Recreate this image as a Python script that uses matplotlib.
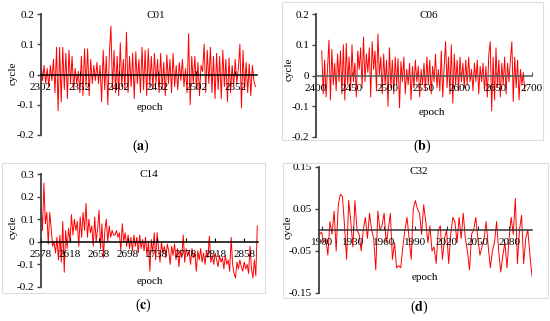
import numpy as np
import matplotlib
matplotlib.use('Agg')
import matplotlib.pyplot as plt
from matplotlib.patches import Rectangle

# Fonts: Times-like serif, plain hyphen for negative numbers
plt.rcParams['font.family'] = ['Liberation Serif', 'DejaVu Serif']
plt.rcParams['axes.unicode_minus'] = False
plt.rcParams['mathtext.fontset'] = 'stix'

# Data (residuals in cycles, one value every 2 epochs)
epochs_c01 = np.arange(2302, 2580, 2)
c01 = [0.04, -0.02, 0.03, -0.03, 0.02, -0.04, 0.03, -0.02, 0.05, -0.06,
       0.09, -0.12, 0.09, -0.09, 0.09, -0.05, 0.07, -0.08, 0.08, -0.03,
       0.06, -0.05, 0.02, -0.03, 0.01, -0.06, 0.06, -0.07, 0.085, -0.04,
       0.085, -0.07, 0.05, -0.03, 0.03, -0.02, 0.04, -0.03, 0.03, -0.09,
       0.08, -0.05, 0.06, -0.1, 0.07, 0.16, -0.05, 0.08, -0.06, 0.06,
       -0.07, 0.105, -0.04, 0.05, -0.05, 0.14, -0.06, 0.06, -0.04, 0.07,
       -0.08, 0.075, -0.03, 0.05, -0.06, 0.09, -0.05, 0.08, -0.07, 0.085,
       -0.04, 0.06, -0.05, 0.07, -0.03, 0.05, -0.06, 0.07, -0.05, 0.04,
       -0.07, 0.065, -0.03, 0.05, -0.06, 0.07, -0.04, 0.03, -0.05, 0.04,
       -0.02, 0.05, -0.04, 0.02, -0.06, 0.135, -0.1, 0.06, -0.03, 0.06,
       -0.05, 0.04, -0.07, 0.03, 0.01, 0.1, -0.06, 0.08, -0.03, 0.09,
       -0.06, 0.06, -0.08, 0.07, -0.05, 0.06, -0.08, 0.08, -0.04, 0.05,
       -0.09, 0.055, -0.06, 0.03, -0.04, 0.05, -0.03, 0.02, 0.1, -0.11,
       0.08, -0.05, 0.04, -0.06, 0.035, -0.07, 0.03, -0.02, -0.04]

epochs_c06 = np.arange(2408, 2692, 2)
c06 = [0.08, -0.06, 0.05, -0.07, 0.02, 0.115, -0.08, 0.085, -0.03, 0.04,
       -0.05, 0.07, -0.02, 0.08, -0.06, 0.1, -0.08, 0.105, -0.03, 0.06,
       -0.05, 0.1, -0.02, 0.04, -0.07, 0.08, 0.02, 0.09, -0.04, 0.125,
       -0.02, 0.07, 0.01, 0.09, -0.07, 0.11, 0.02, 0.08, -0.05, 0.135,
       0.0, 0.06, -0.06, 0.07, -0.03, 0.05, -0.1, 0.09, -0.04, 0.05,
       -0.06, 0.06, -0.03, 0.055, -0.105, 0.045, -0.02, 0.06, -0.06, 0.02,
       -0.03, 0.04, -0.08, 0.03, -0.04, 0.05, -0.02, 0.03, -0.07, 0.02,
       -0.03, 0.04, -0.05, 0.06, -0.03, 0.05, -0.06, 0.03, -0.02, 0.07,
       -0.04, 0.02, -0.05, 0.08, -0.07, 0.03, 0.11, -0.04, 0.06, -0.06,
       0.1, -0.09, 0.07, -0.03, 0.05, -0.05, 0.06, -0.02, 0.04, -0.04,
       0.05, -0.03, 0.06, -0.02, 0.02, -0.05, 0.04, -0.02, 0.05, -0.06,
       0.03, -0.02, 0.04, -0.05, 0.03, -0.07, 0.07, 0.11, -0.115, 0.06,
       -0.08, 0.09, -0.04, 0.05, -0.07, 0.04, -0.03, 0.06, -0.06, 0.04,
       -0.02, 0.05, 0.11, -0.085, 0.06, -0.04, 0.05, -0.08, 0.02, -0.03,
       0.01, -0.05]

epochs_c14 = np.arange(2578, 2878, 2)
c14 = [0.17, 0.05, 0.26, 0.08, 0.13, -0.01, 0.13, 0.06, -0.02, 0.0,
       -0.05, 0.02, -0.08, 0.03, -0.09, 0.09, -0.135, 0.05, -0.03, 0.06,
       0.0, 0.12, 0.03, 0.1, 0.05, 0.09, -0.02, 0.11, 0.02, 0.13,
       0.05, 0.17, 0.02, 0.1, 0.04, 0.07, -0.02, 0.11, 0.0, 0.06,
       0.14, -0.03, 0.08, -0.07, 0.05, 0.1, 0.0, 0.07, 0.02, 0.05,
       0.03, 0.03, 0.05, 0.02, 0.04, -0.04, 0.08, 0.0, 0.04, -0.02,
       0.03, -0.03, 0.02, -0.04, 0.03, -0.02, 0.02, -0.05, 0.03, -0.03,
       0.01, -0.04, 0.02, -0.06, 0.0, -0.13, 0.01, -0.05, 0.04, -0.08,
       0.04, -0.03, -0.09, 0.0, -0.05, -0.02, -0.07, -0.01, -0.04, -0.1,
       -0.02, -0.06, -0.01, -0.08, -0.03, -0.11, -0.04, -0.07, 0.03, -0.09,
       -0.03, -0.06, -0.04, -0.1, -0.03, -0.07, -0.05, -0.13, -0.04, -0.08,
       -0.03, -0.09, -0.05, -0.1, -0.04, -0.07, 0.025, -0.09, -0.06, -0.1,
       -0.05, -0.08, -0.11, -0.06, -0.09, -0.07, -0.12, -0.06, -0.1, -0.08,
       -0.13, 0.02, -0.1, -0.14, -0.16, -0.09, -0.12, -0.08, -0.11, -0.13,
       -0.09, -0.12, -0.1, -0.14, -0.02, -0.12, -0.16, -0.08, -0.15, 0.07]

epochs_c32 = np.arange(1898, 2104, 2)
c32 = [-0.01, -0.005, -0.03, -0.02, -0.06, 0.02, -0.01, 0.045, -0.05, 0.06,
       0.085, 0.08, 0.01, -0.07, 0.07, 0.02, -0.04, 0.07, 0.0, -0.01,
       -0.05, 0.0, 0.03, -0.02, 0.04, 0.0, -0.02, -0.095, 0.045, 0.0,
       0.01, 0.04, -0.03, 0.0, 0.04, -0.07, -0.03, -0.09, -0.085, -0.09,
       -0.04, 0.0, 0.03, -0.02, -0.07, 0.05, 0.07, 0.05, 0.04, -0.01,
       0.06, 0.02, -0.03, 0.01, -0.05, -0.04, -0.08, 0.0, 0.01, -0.07,
       -0.02, 0.0, -0.08, -0.01, 0.03, 0.02, -0.03, 0.03, -0.02, 0.04,
       -0.02, -0.05, -0.095, -0.01, 0.0, 0.03, -0.02, -0.06, -0.04, -0.02,
       0.02, -0.04, -0.09, -0.05, -0.03, 0.02, -0.05, -0.1, -0.06, -0.03,
       -0.09, -0.02, 0.03, -0.01, 0.075, -0.08, 0.0, 0.035, -0.08, -0.02,
       0.0, -0.06, -0.11]

# Tick values and labels
xticks_c01 = [2302, 2352, 2402, 2452, 2502, 2552]
xticks_c06 = [2400, 2450, 2500, 2550, 2600, 2650, 2700]
xticks_c14 = [2578, 2618, 2658, 2698, 2738, 2778, 2818, 2858]
xticks_c32 = [1900, 1930, 1960, 1990, 2020, 2050, 2080]
yticks_a = [0.2, 0.1, 0, -0.1, -0.2]
ylabels_a = ['0.2', '0.1', '0', '-0.1', '-0.2']
yticks_c = [0.3, 0.2, 0.1, 0, -0.1, -0.2]
ylabels_c = ['0.3', '0.2', '0.1', '0', '-0.1', '-0.2']
yticks_d = [0.15, 0.05, -0.05, -0.15]
ylabels_d = ['0.15', '0.05', '-0.05', '-0.15']

FS = 8
W, H = 550, 321
fig = plt.figure(figsize=(W / 100, H / 100), dpi=100)


def box(left, top, right, bottom):
    # pixel box (from top-left) -> figure fraction
    return [left / W, 1 - bottom / H, (right - left) / W, (bottom - top) / H]


def ftext(x, y, s, **kw):
    fig.text(x / W, 1 - y / H, s, ha='center', va='center', **kw)


def panel(rect, epochs, values, xlim, xticks, ylim, yticks, ylabels, zero_color):
    ax = fig.add_axes(box(*rect))
    ax.patch.set_alpha(0)
    # red series drawn under the axis lines and tick labels
    ax.plot(epochs, values, color='#ff0000', lw=0.7, zorder=1)
    ax.set_xlim(xlim)
    ax.set_ylim(ylim)
    ax.spines['top'].set_visible(False)
    ax.spines['right'].set_visible(False)
    ax.spines['bottom'].set_position(('data', 0))
    ax.spines['bottom'].set_color(zero_color)
    ax.spines['bottom'].set_linewidth(1.1)
    ax.spines['left'].set_color('#404040')
    ax.spines['left'].set_linewidth(1.3)
    ax.set_xticks(xticks)
    ax.set_xticklabels([str(t) for t in xticks])
    ax.set_yticks(yticks)
    ax.set_yticklabels(ylabels)
    ax.tick_params(axis='x', direction='in', length=3, width=0.8, pad=6,
                   labelsize=FS, colors=zero_color, labelcolor='black')
    ax.tick_params(axis='y', direction='out', length=3, width=1.0, pad=2,
                   labelsize=FS, colors='#404040', labelcolor='black')
    return ax


# Light chart-area frames
for r in [(282, 2, 543, 140), (2, 163, 265, 293), (283, 163, 548, 298)]:
    fig.patches.append(Rectangle((r[0] / W, 1 - r[3] / H), (r[2] - r[0]) / W,
                                 (r[3] - r[1]) / H, transform=fig.transFigure,
                                 fill=False, edgecolor='#dddddd', lw=0.8))

# (a) C01
panel((41, 14, 257, 135), epochs_c01, c01, (2302, 2580), xticks_c01,
      (-0.2, 0.2), yticks_a, ylabels_a, 'black')
ftext(156, 16, 'C01', fontsize=FS)
ftext(150, 108, 'epoch', fontsize=FS)
ftext(13, 73, 'cycle', fontsize=FS, rotation=90)
ftext(141, 146, r'($\mathbf{a}$)', fontsize=10)

# (b) C06
panel((316, 14, 532, 137), epochs_c06, c06, (2400, 2700), xticks_c06,
      (-0.2, 0.2), yticks_a, ylabels_a, '#595959')
ftext(429, 16, 'C06', fontsize=FS)
ftext(432, 113, 'epoch', fontsize=FS)
ftext(289, 69, 'cycle', fontsize=FS, rotation=90)
ftext(422, 146, r'($\mathbf{b}$)', fontsize=10)

# (c) C14
panel((41, 174, 258, 287), epochs_c14, c14, (2578, 2877), xticks_c14,
      (-0.2, 0.3), yticks_c, ylabels_c, 'black')
ftext(149, 175, 'C14', fontsize=FS)
ftext(150, 281, 'epoch', fontsize=FS)
ftext(13, 227, 'cycle', fontsize=FS, rotation=90)
ftext(143, 305, r'($\mathbf{c}$)', fontsize=10)

# (d) C32
panel((319, 167, 532, 293), epochs_c32, c32, (1897.5, 2102), xticks_c32,
      (-0.15, 0.15), yticks_d, ylabels_d, '#333333')
ftext(419, 172, 'C32', fontsize=FS)
ftext(425, 277, 'epoch', fontsize=FS)
ftext(288, 227, 'cycle', fontsize=FS, rotation=90)
ftext(419, 307, r'($\mathbf{d}$)', fontsize=10)

fig.savefig('out.png', dpi=100)
